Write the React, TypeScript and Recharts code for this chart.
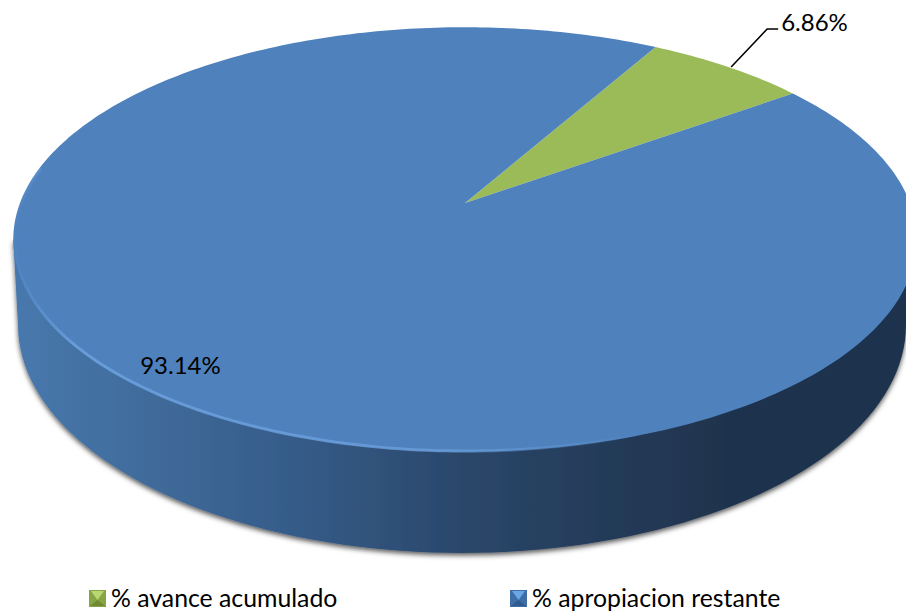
import React from 'react';
import { PieChart, Pie, Legend } from 'recharts';

const categories = ['% avance acumulado', '% apropiacion restante'];
const values = [6.86, 93.14];
const colors = ['#9bbb59', '#4f81bd'];
const chartData = categories.map((name, i) => ({ name, value: values[i], fill: colors[i] }));

const FONT = 'Lato, "Open Sans", sans-serif';
const LABEL_SIZE = 24;
// perspective of the tilted pie
const SQUASH = 206 / 445;
const TILT = 0.172;
// lower rim of the cylinder
const BASE = { cx: 462, cy: 325, rx: 444, ry: 228 };
const RAD = Math.PI / 180;

const project = (cx: number, cy: number, radius: number, deg: number, r = 1) => {
  const c = Math.cos(deg * RAD);
  const s = -Math.sin(deg * RAD);
  const d = 1 - TILT * r * s;
  return { x: cx + (radius * r * c) / d, y: cy + (radius * SQUASH * r * s) / d };
};

const arcPoints = (cx: number, cy: number, radius: number, from: number, to: number) => {
  const n = Math.max(8, Math.ceil(Math.abs(to - from)));
  const pts: string[] = [];
  for (let i = 0; i <= n; i++) {
    const p = project(cx, cy, radius, from + ((to - from) * i) / n);
    pts.push(`${p.x.toFixed(2)} ${p.y.toFixed(2)}`);
  }
  return pts;
};

const wallPath = (cx: number, cy: number, radius: number) => {
  const a = project(cx, cy, radius, 190);
  const b = project(cx, cy, radius, -10);
  const arc: string[] = [];
  for (let d = 180; d <= 360; d += 2) {
    arc.push(`${(BASE.cx + BASE.rx * Math.cos(d * RAD)).toFixed(2)} ${(BASE.cy - BASE.ry * Math.sin(d * RAD)).toFixed(2)}`);
  }
  return `M${a.x} ${a.y}L${arc.join('L')}L${b.x} ${b.y}Z`;
};

const SliceShape = (props: any) => {
  const { cx, cy, outerRadius, startAngle, endAngle, fill, index } = props;
  const outer = arcPoints(cx, cy, outerRadius, startAngle, endAngle);
  const face = `M${cx} ${cy}L${outer.join('L')}Z`;
  if (index === 0) return <path d={face} fill={fill} />;
  const rim = arcPoints(cx, cy, outerRadius * 0.997, 170, 300);
  return (
    <g>
      <path d={wallPath(cx, cy, outerRadius)} fill="url(#wallGrad)" filter="url(#wallShadow)" />
      <path d={face} fill={fill} />
      <path d={`M${rim.join('L')}`} fill="none" stroke="url(#rimGrad)" strokeWidth={3} filter="url(#rimBlur)" />
    </g>
  );
};

const renderLabel = (props: any) => {
  const { cx, cy, outerRadius, midAngle, value, index } = props;
  const text = `${Number(value).toFixed(2)}%`;
  if (index === 0) {
    const p = project(cx, cy, outerRadius, midAngle);
    const ex = p.x + 3;
    const ey = p.y;
    return (
      <g>
        <path d={`M${ex} ${ey}L${ex + 36} ${ey - 38}L${ex + 47} ${ey - 38}`} fill="none" stroke="#000" strokeWidth={1.6} />
        <text x={ex + 50} y={ey - 36} fontFamily={FONT} fontSize={LABEL_SIZE} fill="#000">
          {text}
        </text>
      </g>
    );
  }
  const p = project(cx, cy, outerRadius, midAngle, 0.875);
  return (
    <text x={p.x + 8} y={p.y + 20} textAnchor="middle" fontFamily={FONT} fontSize={LABEL_SIZE} fill="#000">
      {text}
    </text>
  );
};

const Marker = ({ side, top, bottom }: { side: string; top: string; bottom: string }) => (
  <svg width={17} height={17} style={{ position: 'absolute', left: 0, top: 0 }}>
    <rect x={0} y={0} width={17} height={17} fill={side} />
    <path d="M2 1L15 1L8.5 10Z" fill={top} />
    <path d="M1 16L16 16L8.5 10Z" fill={bottom} />
  </svg>
);

const legendX = [89, 510];
const markerTones = [
  { side: '#86a544', top: '#b9d670', bottom: '#6f8a33' },
  { side: '#3f6ea6', top: '#6aa5e5', bottom: '#2f5a8e' },
];
const renderLegend = (props: any) => (
  <div style={{ position: 'relative', width: 906, height: 611 }}>
    {(props.payload || []).map((e: any, i: number) => (
      <div key={i} style={{ position: 'absolute', left: legendX[i], top: 590, height: 17 }}>
        <Marker {...markerTones[i]} />
        <span
          style={{
            position: 'absolute', left: 22, top: -8, whiteSpace: 'nowrap', fontFamily: FONT,
            fontSize: 24.8, lineHeight: '32px', color: '#000',
          }}
        >
          {e.value}
        </span>
      </div>
    ))}
  </div>
);

export default function App() {
  return (
    <div style={{ position: 'absolute', left: 0, top: 0, width: 906, height: 611, overflow: 'hidden', background: '#fff' }}>
      <PieChart width={906} height={611} margin={{ top: 0, right: 0, bottom: 0, left: 0 }}>
        <defs>
          <linearGradient id="wallGrad" gradientUnits="userSpaceOnUse" x1={17} y1={0} x2={906} y2={0}>
            <stop offset="0" stopColor="#4778ad" />
            <stop offset="0.15" stopColor="#406b9a" />
            <stop offset="0.32" stopColor="#355b88" />
            <stop offset="0.49" stopColor="#2b486c" />
            <stop offset="0.66" stopColor="#243b59" />
            <stop offset="0.8" stopColor="#1f334d" />
            <stop offset="1" stopColor="#1f334d" />
          </linearGradient>
          <linearGradient id="rimGrad" gradientUnits="userSpaceOnUse" x1={12} y1={0} x2={640} y2={0}>
            <stop offset="0" stopColor="#6ea3e0" stopOpacity={0} />
            <stop offset="0.1" stopColor="#6ea3e0" stopOpacity={0.8} />
            <stop offset="0.7" stopColor="#6ea3e0" stopOpacity={0.7} />
            <stop offset="1" stopColor="#6ea3e0" stopOpacity={0} />
          </linearGradient>
          <filter id="wallShadow" filterUnits="userSpaceOnUse" x={-20} y={0} width={960} height={611}>
            <feDropShadow dx={0} dy={2.5} stdDeviation={2.5} floodColor="#000" floodOpacity={0.65} />
          </filter>
          <filter id="rimBlur" filterUnits="userSpaceOnUse" x={-20} y={0} width={960} height={611}>
            <feGaussianBlur stdDeviation={0.6} />
          </filter>
        </defs>
        <Pie
          data={chartData}
          dataKey="value"
          nameKey="name"
          cx={465}
          cy={203}
          innerRadius={0}
          outerRadius={445}
          startAngle={60.5}
          endAngle={-299.5}
          stroke="none"
          shape={SliceShape}
          label={renderLabel}
          labelLine={false}
          isAnimationActive={false}
        />
        <Legend itemSorter={null} content={renderLegend} wrapperStyle={{ left: 0, top: 0, width: 906, height: 611, pointerEvents: 'none' }} />
      </PieChart>
    </div>
  );
}
